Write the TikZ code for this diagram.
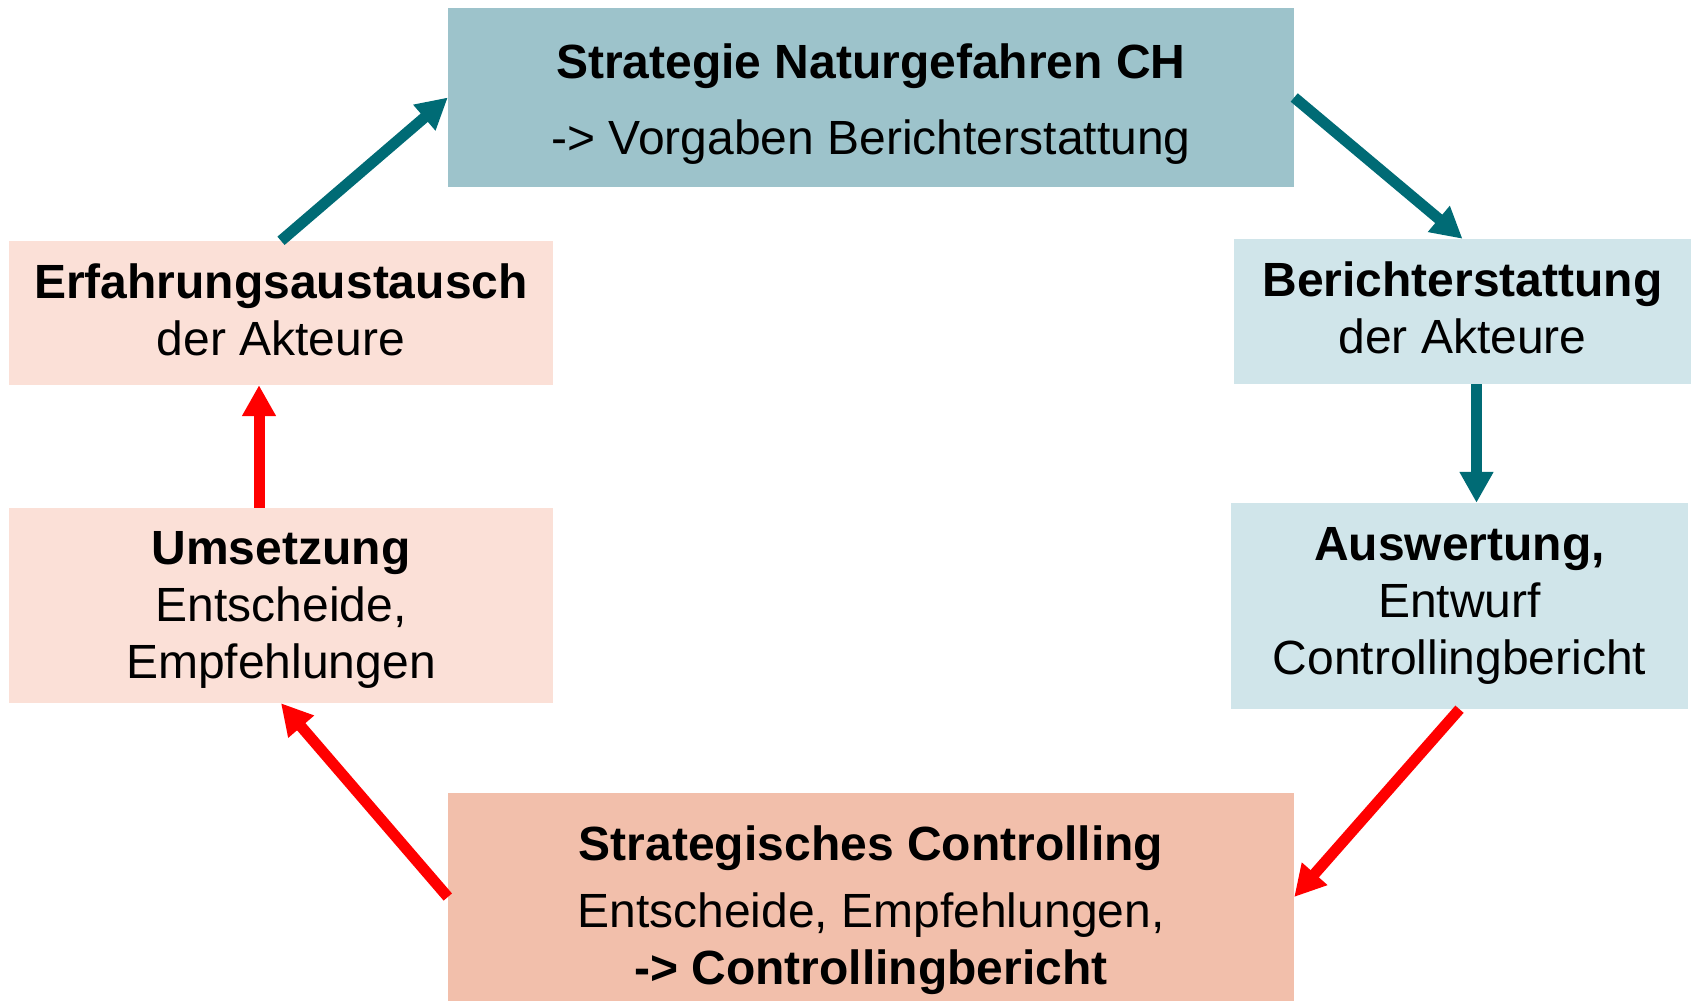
\documentclass[tikz,border=0pt]{standalone}
\usepackage{fontspec}
\setmainfont{Liberation Sans}
\usetikzlibrary{arrows.meta}

\definecolor{topblue}{HTML}{9DC3CB}
\definecolor{lightblue}{HTML}{D0E5EA}
\definecolor{lightpink}{HTML}{FBE0D7}
\definecolor{salmon}{HTML}{F2BFAB}
\definecolor{teal}{HTML}{006B75}
\definecolor{brightred}{HTML}{FF0000}

\begin{document}
\begin{tikzpicture}[x=1pt, y=-1pt,
	every node/.style = {shape=rectangle, inner sep=0pt, align=center,
		font=\fontsize{48}{57}\selectfont},
	box/.style = {minimum width=#1},
	arr/.style = {line width=11pt, draw=#1,
		-{Triangle[length=31pt, width=32pt]}}]
	\useasboundingbox (0,0) rectangle (1694,1001);
	\node[box=846pt, minimum height=179pt, fill=topblue] (strategie) at (871,97.5) {};
	\node[box=544pt, minimum height=144pt, fill=lightpink] (austausch) at (281,313) {};
	\node[box=457pt, minimum height=145pt, fill=lightblue] (bericht) at (1462.5,311.5) {};
	\node[box=544pt, minimum height=195pt, fill=lightpink] (umsetzung) at (281,605.5) {};
	\node[box=457pt, minimum height=206pt, fill=lightblue] (auswertung) at (1459.5,606) {};
	\node[box=846pt, minimum height=208pt, fill=salmon] (controlling) at (871,897) {};

	\node (strategie text) at ([yshift=-7pt]strategie.center)
		{\textbf{Strategie Naturgefahren CH}\\[19pt] -> Vorgaben Berichterstattung};
	\node (austausch text) at ([yshift=3pt]austausch.center)
		{\textbf{Erfahrungsaustausch}\\ der Akteure};
	\node (bericht text) at ([yshift=4pt]bericht.center)
		{\textbf{Berichterstattung}\\ der Akteure};
	\node (umsetzung text) at ([yshift=-4pt]umsetzung.center)
		{\textbf{Umsetzung}\\ Entscheide,\\ Empfehlungen};
	\node (auswertung text) at (auswertung.center)
		{\textbf{Auswertung,}\\ Entwurf\\ Controllingbericht};
	\node (controlling text) at ([yshift=-13pt]controlling.center)
		{\textbf{Strategisches Controlling}\\[10pt] Entscheide, Empfehlungen,\\ \textbf{-> Controllingbericht}};

	\draw[arr=teal] (austausch.north) -- (strategie.west);
	\draw[arr=teal] (strategie.east) -- (bericht.north);
	\draw[arr=teal] ([xshift=14pt]bericht.south) -- ([xshift=14pt]bericht.south |- auswertung.north);
	\draw[arr=brightred] (auswertung.south) -- (controlling.east);
	\draw[arr=brightred] (controlling.west) -- (umsetzung.south);
	\draw[arr=brightred] ([xshift=-22pt]umsetzung.north) -- ([xshift=-22pt]austausch.south);
\end{tikzpicture}
\end{document}
